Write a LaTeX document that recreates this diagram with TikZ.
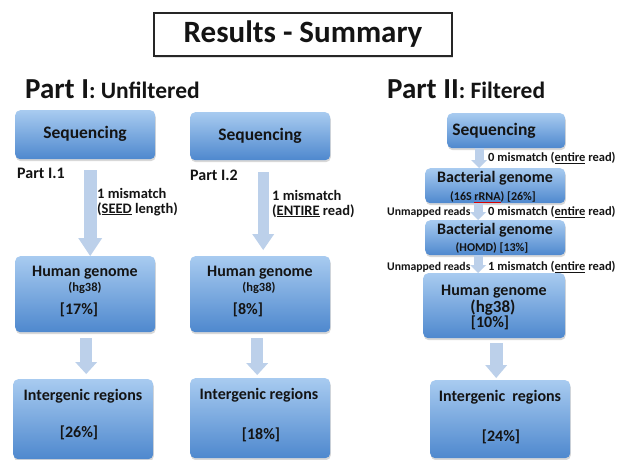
\documentclass[tikz,border=0pt]{standalone}
\usepackage{fontspec}
\setmainfont{Carlito}
\usetikzlibrary{arrows.meta,shadows}
\definecolor{btop}{RGB}{168,203,240}
\definecolor{bbot}{RGB}{78,136,206}
\definecolor{arr}{RGB}{188,208,234}
\newlength\rulw
\newcommand\redul[1]{\settowidth{\rulw}{#1}\rlap{\textcolor{red!85!black}{\rule[-1.8pt]{\rulw}{0.5pt}}}#1}
\newcommand\myfs[1]{\fontsize{#1}{#1}\selectfont}
\begin{document}
\begin{tikzpicture}[x=1pt,y=-1pt,
  every node/.style={inner sep=0pt, text=black!92, font=\bfseries},
  box/.style={anchor=north west, rounded corners=5pt, top color=btop, bottom color=bbot,
    drop shadow={shadow xshift=0.6pt, shadow yshift=-2pt, opacity=0.3}},
  barrow/.style={draw=arr, line cap=butt},
  lbl/.style={anchor=west}]
\useasboundingbox (0,0) rectangle (622,459);
\fill[white] (0,0) rectangle (622,459);

% title
\node[draw=black!85, line width=1.6pt, fill=white, minimum width=298pt, minimum height=43pt,
  drop shadow={shadow xshift=1pt, shadow yshift=-1.5pt, opacity=0.25}] (title) at (303,34.5) {\myfs{31}Results - Summary};
\node[anchor=base west] (p1) at (25,98) {\myfs{29}Part I\myfs{23.5}: Unfiltered};
\node[anchor=base west] (p2) at (387,98) {\myfs{29}Part II\myfs{23.5}: Filtered};

% ---------- column 1 ----------
\node[box, minimum width=140pt, minimum height=49pt] (s1) at (15,110) {};
\node (s1t) at (85,134) {\myfs{17.5}Sequencing};
\node[lbl] (pi1) at (17,173) {\myfs{16}Part I.1};
\node[lbl] (m1a) at (97,193) {\myfs{14.5}1 mismatch};
\node[lbl] (m1b) at (97,209) {\myfs{14.5}(\underline{SEED} length)};
\node[box, minimum width=140pt, minimum height=76pt] (h1) at (15,256) {};
\node (h1a) at (85,273) {\myfs{16}Human genome};
\node (h1b) at (85,288) {\myfs{12.5}(hg38)};
\node (h1c) at (79,310) {\myfs{16}[17\%]};
\node[box, minimum width=140pt, minimum height=80pt] (i1) at (13,379) {};
\node (i1a) at (83,396) {\myfs{16}Intergenic regions};
\node (i1b) at (79,433) {\myfs{16}[26\%]};
\draw[barrow, line width=13pt, -{Triangle[width=24pt,length=18pt,line width=0pt]}]
  ([xshift=5pt,yshift=-11pt]s1.south) -- ([xshift=5pt]h1.north);
\draw[barrow, line width=12pt, -{Triangle[width=22pt,length=12pt,line width=0pt]}]
  ([xshift=1pt,yshift=-6pt]h1.south) -- ([xshift=3pt,yshift=5pt]i1.north);

% ---------- column 2 ----------
\node[box, minimum width=140pt, minimum height=48pt] (s2) at (190,112) {};
\node (s2t) at (260,136) {\myfs{17.5}Sequencing};
\node[lbl] (pi2) at (190,175) {\myfs{16}Part I.2};
\node[lbl] (m2a) at (272,195) {\myfs{14.5}1 mismatch};
\node[lbl] (m2b) at (272,211) {\myfs{14.5}(\underline{ENTIRE} read)};
\node[box, minimum width=140pt, minimum height=76pt] (h2) at (190,256) {};
\node (h2a) at (260,273) {\myfs{16}Human genome};
\node (h2b) at (259,288) {\myfs{12.5}(hg38)};
\node (h2c) at (248,310) {\myfs{16}[8\%]};
\node[box, minimum width=140pt, minimum height=80pt] (i2) at (190,378) {};
\node (i2a) at (259,395) {\myfs{16}Intergenic regions};
\node (i2b) at (261,435) {\myfs{16}[18\%]};
\draw[barrow, line width=11pt, -{Triangle[width=22pt,length=16pt,line width=0pt]}]
  ([xshift=3pt,yshift=-12pt]s2.south) -- ([xshift=3pt,yshift=6pt]h2.north);
\draw[barrow, line width=12pt, -{Triangle[width=22pt,length=12pt,line width=0pt]}]
  ([xshift=-3pt,yshift=-6pt]h2.south) -- ([xshift=-3pt,yshift=3pt]i2.north);

% ---------- column 3 ----------
\node[box, minimum width=118pt, minimum height=35pt] (s3) at (447,113) {};
\node (s3t) at (494,131) {\myfs{17.5}Sequencing};
\node[lbl] (r1) at (488,158) {\myfs{12.5}0 mismatch (\underline{entire} read)};
\node[box, minimum width=140pt, minimum height=35pt] (b1) at (425,168) {};
\node (b1a) at (495,178) {\myfs{16}Bacterial genome};
\node (b1b) at (493,197) {\myfs{12}(16S \redul{rRNA}) [26\%]};
\node[lbl] (u1) at (387,212) {\myfs{11.7}Unmapped reads};
\node[lbl] (r2) at (488,212) {\myfs{12.5}0 mismatch (\underline{entire} read)};
\node[box, minimum width=140pt, minimum height=35pt] (b2) at (425,220) {};
\node (b2a) at (495,230) {\myfs{16}Bacterial genome};
\node (b2b) at (492,248) {\myfs{12}(HOMD) [13\%]};
\node[lbl] (u2) at (387,267) {\myfs{11.7}Unmapped reads};
\node[lbl] (r3) at (488,267) {\myfs{12.5}1 mismatch (\underline{entire} read)};
\node[box, minimum width=142pt, minimum height=65pt] (h3) at (423,273) {};
\node (h3a) at (494,292) {\myfs{16}Human genome};
\node (h3b) at (493,308) {\myfs{17}(hg38)};
\node (h3c) at (490,323) {\myfs{16}[10\%]};
\node[box, minimum width=140pt, minimum height=78pt] (i3) at (430,380) {};
\node (i3a) at (500,397) {\myfs{16}Intergenic\ \ regions};
\node (i3b) at (501,437) {\myfs{16}[24\%]};
\draw[barrow, line width=9pt, -{Triangle[width=16pt,length=8pt,line width=0pt]}]
  ([xshift=-27pt]s3.south) -- ([xshift=-16pt]b1.north);
\draw[barrow, line width=9pt, -{Triangle[width=16pt,length=8pt,line width=0pt]}]
  ([xshift=-17pt]b1.south) -- ([xshift=-17pt]b2.north);
\draw[barrow, line width=9pt, -{Triangle[width=16pt,length=8pt,line width=0pt]}]
  ([xshift=-17pt]b2.south) -- ([xshift=-16pt]h3.north);
\draw[barrow, line width=13pt, -{Triangle[width=22pt,length=13pt,line width=0pt]}]
  ([xshift=2pt,yshift=-5pt]h3.south) -- ([xshift=-4pt,yshift=2pt]i3.north);
\end{tikzpicture}
\end{document}
